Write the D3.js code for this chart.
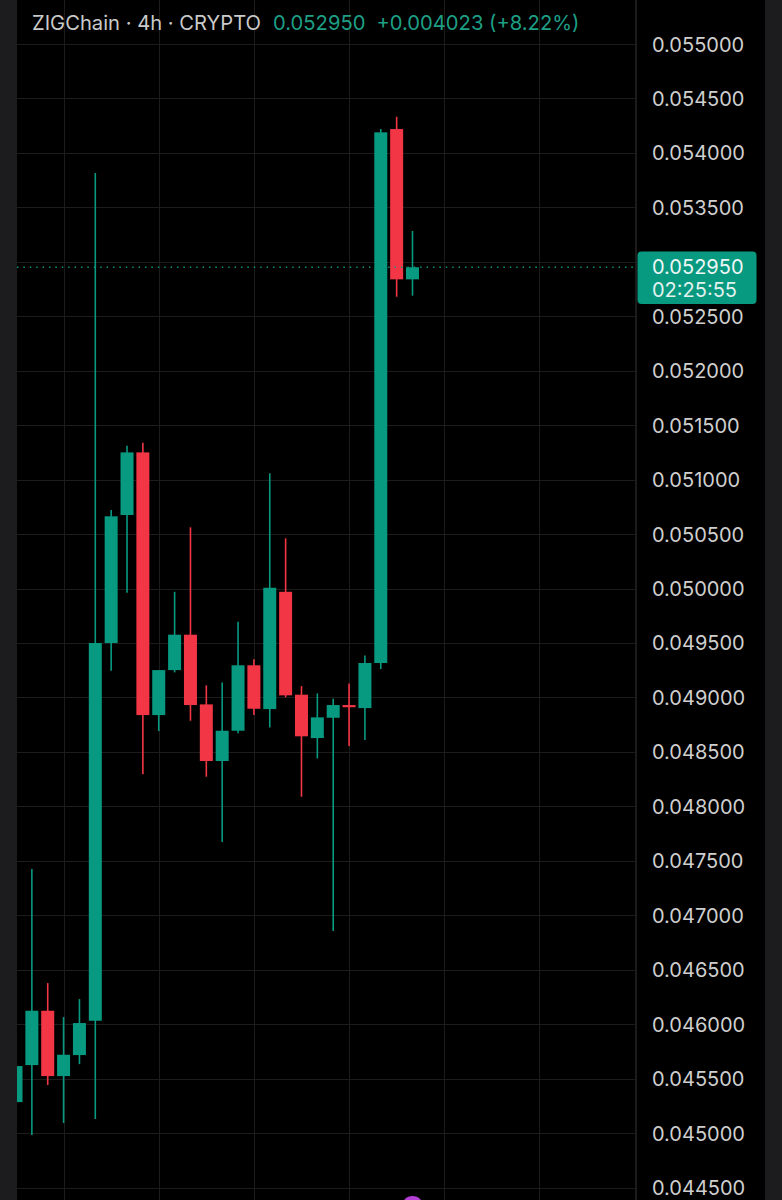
<!DOCTYPE html>
<html>
<head>
<meta charset="utf-8">
<script src="https://cdn.jsdelivr.net/npm/d3@7"></script>
<style>
  html, body { margin: 0; padding: 0; background: #000; }
  svg { display: block; }
  text { font-family: Inter, "Noto Sans", sans-serif; }
</style>
</head>
<body>
<div id="chart"></div>
<script>
// 4h candles (first one is partly hidden)
let opens  = [0.045284, 0.045624, 0.046123, 0.045523, 0.045716, 0.046031, 0.049500, 0.050675, 0.051250, 0.048838,
              0.049251, 0.049576, 0.048936, 0.048416, 0.048694, 0.049295, 0.048893, 0.049970, 0.049025, 0.048627,
              0.048813, 0.048930, 0.048902, 0.049316, 0.054219, 0.052839];
let highs  = [0.045615, 0.047424, 0.046377, 0.046065, 0.046230, 0.053815, 0.050721, 0.051311, 0.051339, 0.049251,
              0.049970, 0.050562, 0.049111, 0.049138, 0.049695, 0.049350, 0.051058, 0.050461, 0.049104, 0.049037,
              0.048988, 0.049129, 0.049386, 0.054219, 0.054332, 0.053283];
let lows   = [0.045284, 0.044981, 0.045441, 0.045092, 0.045633, 0.045128, 0.049245, 0.049961, 0.048294, 0.048691,
              0.049230, 0.048786, 0.048272, 0.047672, 0.048670, 0.048838, 0.048725, 0.049001, 0.048088, 0.048440,
              0.046855, 0.048554, 0.048609, 0.049261, 0.052679, 0.052689];
let closes = [0.045615, 0.046123, 0.045523, 0.045719, 0.046010, 0.049500, 0.050663, 0.051250, 0.048838, 0.049251,
              0.049576, 0.048930, 0.048416, 0.048694, 0.049295, 0.048896, 0.050007, 0.049019, 0.048643, 0.048817,
              0.048930, 0.048910, 0.049316, 0.054189, 0.052839, 0.052950];

// grid lines every 0.0005; 0.053000 is covered by the last price label
let priceTicks = [0.0445, 0.045, 0.0455, 0.046, 0.0465, 0.047, 0.0475, 0.048, 0.0485, 0.049, 0.0495,
                  0.05, 0.0505, 0.051, 0.0515, 0.052, 0.0525, 0.053, 0.0535, 0.054, 0.0545, 0.055];
let priceLabels = [0.0445, 0.045, 0.0455, 0.046, 0.0465, 0.047, 0.0475, 0.048, 0.0485, 0.049, 0.0495,
                   0.05, 0.0505, 0.051, 0.0515, 0.052, 0.0525, 0.0535, 0.054, 0.0545, 0.055];
let dayLines = [3, 9, 15, 21, 27, 33, 39];   // candle index of each vertical grid line

let lastPrice = 0.052950;
let countdown = "02:25:55";
let title = "ZIGChain · 4h · CRYPTO";
let change = "+0.004023 (+8.22%)";

let W = 782, H = 1200;
let plotLeft = 17, plotRight = 636, stripRight = 765;
let up = "#089981", down = "#f23645";

let svg = d3.select("#chart").append("svg")
    .attr("width", W)
    .attr("height", H);

let x = d3.scaleLinear().domain([0, 25]).range([16, 412.5]);
let y = d3.scaleLinear().domain([0.0445, 0.055]).range([1187.5, 44]);

svg.append("rect").attr("width", W).attr("height", H).attr("fill", "#000");

// grid
let grid = svg.append("g").attr("stroke", "#1c1c1c").attr("stroke-width", 1);
grid.selectAll(".h")
    .data(priceTicks)
    .enter()
    .append("line")
        .attr("x1", plotLeft).attr("x2", plotRight)
        .attr("y1", d => Math.round(y(d)) + 0.5)
        .attr("y2", d => Math.round(y(d)) + 0.5);
grid.selectAll(".v")
    .data(dayLines)
    .enter()
    .append("line")
        .attr("x1", d => Math.round(x(d)) + 0.5)
        .attr("x2", d => Math.round(x(d)) + 0.5)
        .attr("y1", 0).attr("y2", H);

// candles
let candles = d3.range(opens.length).map(i => ({
    i: i, o: opens[i], h: highs[i], l: lows[i], c: closes[i]
}));
let plot = svg.append("g");
plot.selectAll(".wick")
    .data(candles)
    .enter()
    .append("line")
        .attr("x1", d => x(d.i)).attr("x2", d => x(d.i))
        .attr("y1", d => y(d.h)).attr("y2", d => y(d.l))
        .attr("stroke", d => d.c >= d.o ? up : down)
        .attr("stroke-width", 1.6);
plot.selectAll(".body")
    .data(candles)
    .enter()
    .append("rect")
        .attr("x", d => x(d.i) - 6.5)
        .attr("width", 13)
        .attr("y", d => y(Math.max(d.o, d.c)))
        .attr("height", d => Math.max(2, Math.abs(y(d.o) - y(d.c))))
        .attr("fill", d => d.c >= d.o ? up : down);

// last price line
svg.append("line")
    .attr("x1", plotLeft).attr("x2", plotRight)
    .attr("y1", y(lastPrice)).attr("y2", y(lastPrice))
    .attr("stroke", up)
    .attr("stroke-width", 1.4)
    .attr("stroke-dasharray", "1.4,5");

// marker at bottom
svg.append("circle")
    .attr("cx", x(25)).attr("cy", 1207)
    .attr("r", 11)
    .attr("fill", "#b43fd6");

// side strips
svg.append("rect").attr("x", 0).attr("width", plotLeft).attr("height", H).attr("fill", "#1c1c1e");
svg.append("rect").attr("x", stripRight).attr("width", W - stripRight).attr("height", H).attr("fill", "#1c1c1e");
svg.append("line")
    .attr("x1", plotRight + 0.5).attr("x2", plotRight + 0.5)
    .attr("y1", 0).attr("y2", H)
    .attr("stroke", "#1c1c1c");

// price axis
let axis = svg.append("g")
    .attr("transform", "translate(652,0)")
    .call(d3.axisRight(y).tickValues(priceLabels).tickSize(0).tickPadding(0)
        .tickFormat(d3.format(".6f")));
axis.select(".domain").remove();
axis.selectAll("text")
    .attr("fill", "#cfcfcf")
    .attr("font-size", "20px")
    .attr("dy", "0.35em")
    .style("font-family", "Inter, sans-serif");

// last price label
svg.append("rect")
    .attr("x", 637.5).attr("y", 251.5)
    .attr("width", 119).attr("height", 52.5)
    .attr("rx", 4)
    .attr("fill", up);
svg.append("text")
    .attr("x", 652).attr("y", 274)
    .attr("fill", "#eef7f5")
    .attr("font-size", "20px")
    .text(d3.format(".6f")(lastPrice));
svg.append("text")
    .attr("x", 652).attr("y", 297)
    .attr("fill", "#e2f2ee")
    .attr("font-size", "20px")
    .text(countdown);

// header
let head = svg.append("text")
    .attr("x", 32).attr("y", 30)
    .attr("font-size", "20.2px");
head.append("tspan").attr("fill", "#cacaca").text(title);
head.append("tspan").attr("fill", "#1e9f85").attr("dx", 12).text(d3.format(".6f")(lastPrice));
head.append("tspan").attr("fill", "#1e9f85").attr("dx", 11).text(change);
</script>
</body>
</html>
